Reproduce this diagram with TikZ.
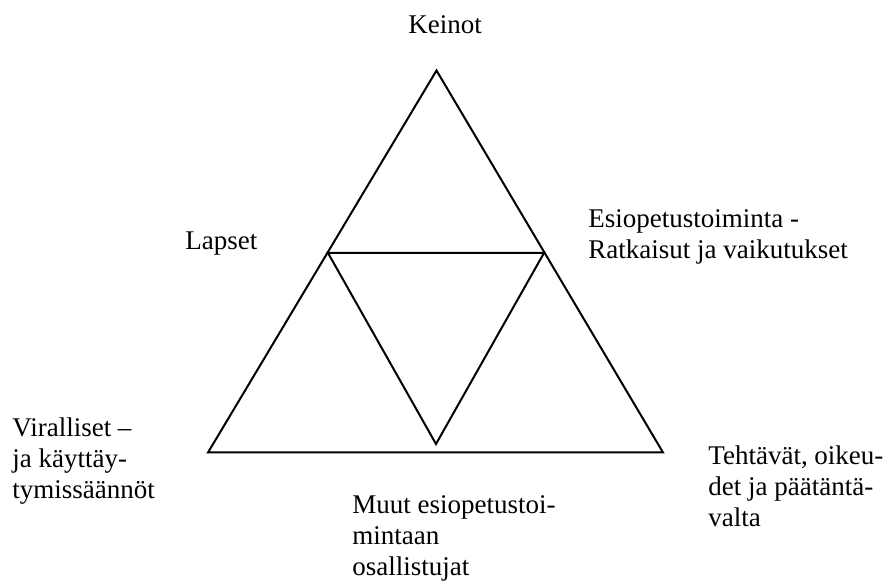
\documentclass[tikz,border=0pt]{standalone}
\usepackage{fontspec}
\setmainfont{Liberation Serif}
\usepackage{tikz}

\tikzset{
  lbl/.style={anchor=base west, inner sep=0pt, align=left,
    font=\fontsize{13.5}{15.5}\selectfont},
  side/.style={line width=1pt}
}

\begin{document}
\begin{tikzpicture}[x=0.5pt,y=-0.5pt]
\useasboundingbox (0,0) rectangle (894,581);

% Outer triangle
\coordinate (top) at (436.5,70.5);
\coordinate (botleft) at (208,452.5);
\coordinate (botright) at (663,452.5);
\draw[side] (top) -- (botright) -- (botleft) -- cycle;

% Inner triangle, point down
\coordinate (midleft) at (328,253);
\coordinate (midright) at (544,253);
\coordinate (midbot) at (436,444);
\draw[side] (midleft) -- (midright) -- (midbot) -- cycle;

% Labels (base = baseline of the last line)
\node[lbl] (keinot) at (408,34) {Keinot};
\node[lbl] (lapset) at (185,250) {Lapset};
\node[lbl] (toiminta) at (588,259) {Esiopetustoiminta -\\Ratkaisut ja vaikutukset};
\node[lbl] (saannot) at (12,499) {Viralliset –\\ja käyttäy-\\tymissäännöt};
\node[lbl] (tehtavat) at (708,527) {Tehtävät, oikeu-\\det ja päätäntä-\\valta};
\node[lbl] (muut) at (352,576) {Muut esiopetustoi-\\mintaan\\osallistujat};
\end{tikzpicture}
\end{document}
